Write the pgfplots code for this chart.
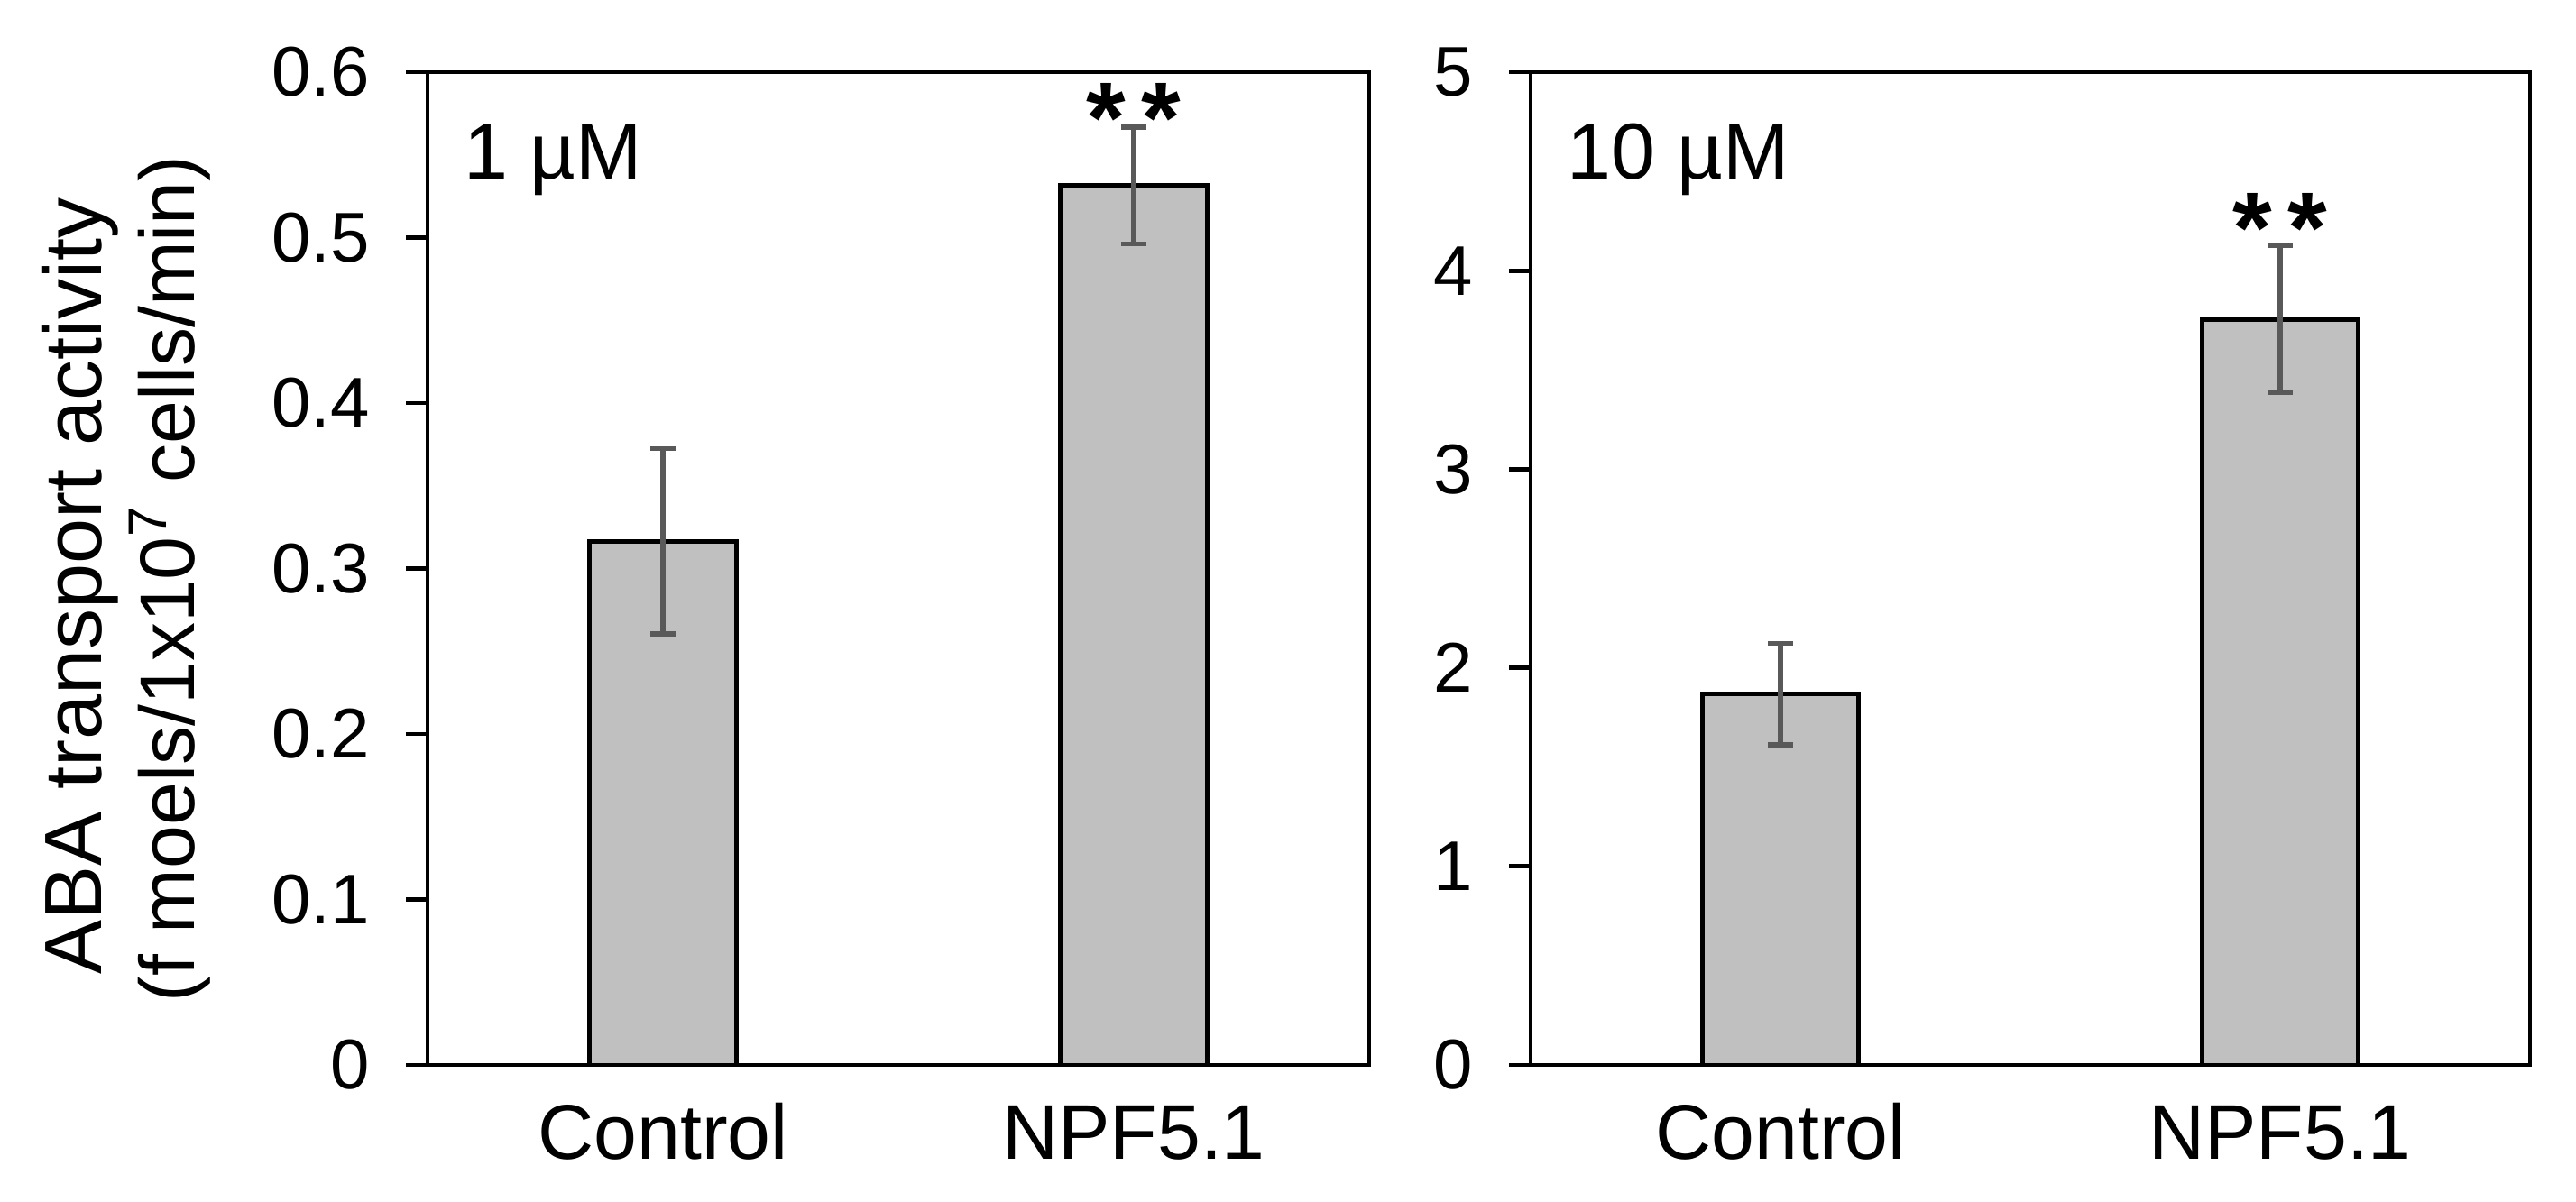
\documentclass[border=0pt]{standalone}
\usepackage{fontspec}
\setmainfont{Liberation Sans}
\usepackage{pgfplots}
\pgfplotsset{compat=1.18}
\definecolor{barfill}{RGB}{192,192,192}
\definecolor{errgray}{RGB}{89,89,89}
\pgfplotsset{
  panel/.style={
    scale only axis,
    height=275.25pt,
    anchor=south west,
    line width=1.2pt,
    ybar, bar width=0.313,
    xmin=-0.5, xmax=1.5,
    xtick={0,1}, xticklabels={Control,NPF5.1},
    major x tick style={draw=none},
    tick align=outside,
    tick pos=left,
    axis line style={line width=1.2pt},
    every tick/.append style={line width=1.2pt, black},
    major tick length=6pt,
    /pgf/number format/assume math mode=true,
    yticklabel style={font=\fontsize{19.5}{19.5}\selectfont, anchor=east, inner sep=0pt, xshift=-9.5pt},
    xticklabel style={font=\fontsize{21.5}{21.5}\selectfont, anchor=base, inner sep=0pt, yshift=-20pt},
  },
  bars/.style={
    fill=barfill, draw=black, line width=1.25pt,
    error bars/.cd, y dir=both, y explicit,
    error bar style={line width=1.4pt, color=errgray},
    error mark options={rotate=90, mark size=3.4pt, line width=1.4pt, color=errgray},
  },
}
\begin{document}
\begin{tikzpicture}
\useasboundingbox (0,0) rectangle (714pt,333pt);
\begin{axis}[panel, at={(118.5pt,37.75pt)}, width=261pt,
  ymin=0, ymax=0.6, ytick={0,0.1,0.2,0.3,0.4,0.5,0.6},
  yticklabel style={/pgf/number format/fixed, /pgf/number format/precision=1}]
\addplot[bars] coordinates {(0,0.3166) +- (0,0.056) (1,0.5315) +- (0,0.0353)};
\node[anchor=base west, inner sep=0pt, font=\fontsize{22}{22}\selectfont, xshift=9.5pt, yshift=-29.5pt] at (rel axis cs:0,1) {1 µM};
\node[anchor=base, inner sep=0pt, font=\bfseries\fontsize{28}{28}\selectfont] at (axis cs:1,0.5515) {*\hspace{4.5pt}*};
\end{axis}
\begin{axis}[panel, at={(424.25pt,37.75pt)}, width=277pt,
  ymin=0, ymax=5, ytick={0,1,2,3,4,5}]
\addplot[bars] coordinates {(0,1.868) +- (0,0.255) (1,3.755) +- (0,0.37)};
\node[anchor=base west, inner sep=0pt, font=\fontsize{22}{22}\selectfont, xshift=9.5pt, yshift=-29.5pt] at (rel axis cs:0,1) {10 µM};
\node[anchor=base, inner sep=0pt, font=\bfseries\fontsize{28}{28}\selectfont] at (axis cs:1,4.04) {*\hspace{4.5pt}*};
\end{axis}
\node[rotate=90, anchor=base, inner sep=0pt, font=\fontsize{22.5}{22.5}\selectfont] at (28pt,170.5pt) {ABA transport activity};
\node[rotate=90, anchor=base, inner sep=0pt, font=\fontsize{21.5}{21.5}\selectfont] at (53.75pt,172.5pt) {(f moels/1x10\textsuperscript{7} cells/min)};
\end{tikzpicture}
\end{document}
